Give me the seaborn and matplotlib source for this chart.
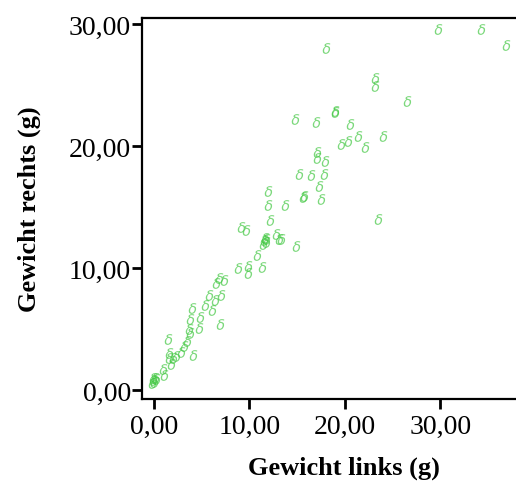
import pandas as pd
import matplotlib
matplotlib.use('Agg')
import matplotlib.pyplot as plt
import seaborn as sns

links = [29.7, 34.2, 36.9, 18.0, 23.2, 23.2, 26.5, 19.0, 19.0, 14.8, 17.0, 20.5,
         21.4, 24.0, 19.6, 20.3, 22.1, 17.1, 17.1, 17.9, 15.2, 16.5, 17.8, 17.3,
         15.6, 15.7, 17.5, 11.9, 11.9, 13.7, 12.2, 23.5, 9.1, 9.6,
         11.5, 11.4, 11.7, 11.7, 11.6, 12.8, 13.1, 13.3, 14.9, 10.8,
         8.8, 9.8, 9.8, 11.3, 6.5, 6.8, 7.3, 5.8, 7.0, 5.4, 6.4, 6.1,
         4.0, 3.8, 4.8, 6.9, 3.7, 3.8, 4.7, 1.5, 3.5, 3.1, 2.8, 4.1,
         1.6, 2.0, 1.8, 1.6, 2.3, 0.9, 1.1,
         -0.1, -0.2, 0.1, 0.0, -0.1, 0.2]
rechts = [29.6, 29.6, 28.3, 28.0, 25.6, 24.9, 23.7, 22.8, 22.9, 22.2, 22.0, 21.8,
          20.8, 20.8, 20.2, 20.4, 19.9, 19.5, 19.0, 18.8, 17.7, 17.6, 17.7, 16.7,
          15.8, 15.9, 15.7, 16.3, 15.2, 15.2, 13.9, 14.0, 13.4, 13.1,
          12.3, 12.0, 12.4, 12.1, 12.5, 12.8, 12.4, 12.4, 11.8, 11.1,
          10.0, 10.2, 9.6, 10.1, 8.8, 9.2, 9.0, 7.8, 7.8, 7.0, 7.4, 6.6,
          6.7, 5.8, 6.0, 5.4, 5.0, 4.7, 5.1, 4.2, 4.0, 3.6, 3.1, 2.9,
          3.0, 2.6, 2.1, 2.6, 2.8, 1.7, 1.2,
          0.8, 0.6, 1.0, 0.7, 1.0, 0.9]
ticks = [0, 10, 20, 30]
tick_labels = ['0,00', '10,00', '20,00', '30,00']

data = pd.DataFrame({'links': links, 'rechts': rechts})

sns.set_style('ticks')
plt.rcParams['font.family'] = ['Liberation Serif', 'DejaVu Serif']
plt.rcParams['text.color'] = 'black'
plt.rcParams['axes.labelcolor'] = 'black'

fig = plt.figure(figsize=(5.16, 4.85), dpi=100)
# the plot frame runs on past the right edge of the picture
ax = fig.add_axes([0.275, 0.175, 0.783, 0.786])

sns.scatterplot(data=data, x='links', y='rechts', ax=ax, marker=r'$\delta$',
                s=60, color='#44c844', alpha=0.7, linewidth=0)

ax.set_xlim(-1.26, 41.05)
ax.set_ylim(-0.74, 30.5)
ax.set_xticks(ticks)
ax.set_xticklabels(tick_labels)
ax.set_yticks(ticks)
ax.set_yticklabels(tick_labels)
ax.tick_params(axis='both', labelsize=20, length=7, width=2, color='black',
               labelcolor='black', direction='out')
ax.tick_params(axis='x', pad=4)
ax.tick_params(axis='y', pad=1)

ax.spines['right'].set_visible(False)
for s in ['left', 'top', 'bottom']:
    ax.spines[s].set_linewidth(1.6)
    ax.spines[s].set_color('black')

ax.set_xlabel('Gewicht links (g)', fontsize=19, fontweight='bold', labelpad=12)
ax.set_ylabel('Gewicht rechts (g)', fontsize=19, fontweight='bold', labelpad=20)

fig.savefig('out.png', dpi=100, facecolor='white')
